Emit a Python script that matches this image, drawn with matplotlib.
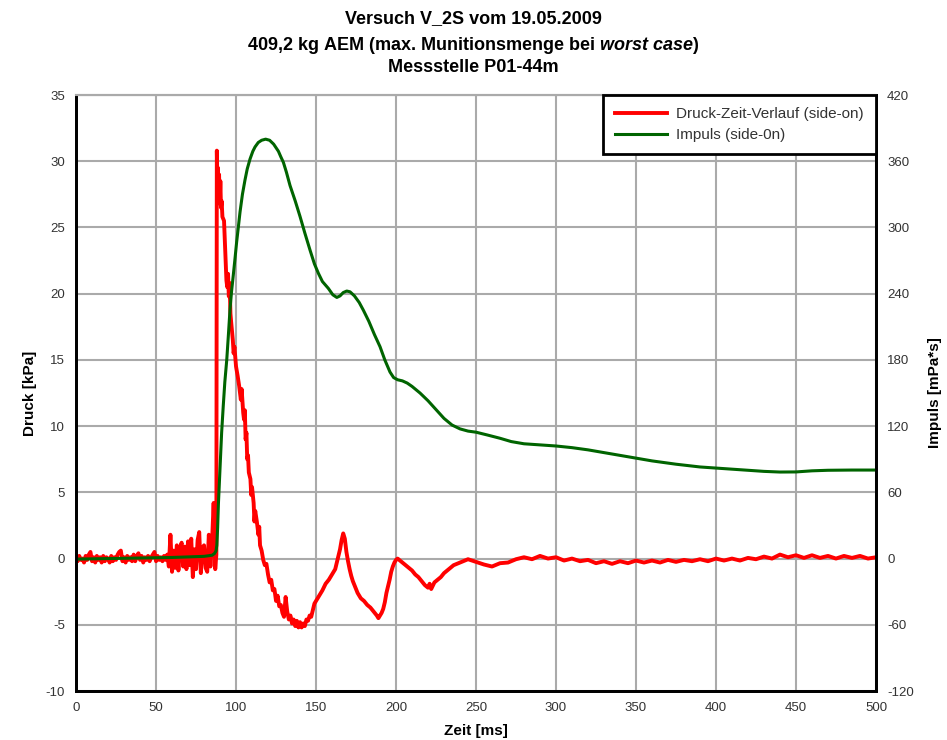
import numpy as np
from matplotlib import pyplot as plt

plt.rcParams['font.family'] = ['Liberation Sans', 'DejaVu Sans']
plt.rcParams['mathtext.fontset'] = 'custom'
plt.rcParams['mathtext.it'] = 'Liberation Sans:bold:italic'
plt.rcParams['mathtext.rm'] = 'Liberation Sans:bold'
plt.rcParams['axes.unicode_minus'] = False

# Druck vor dem Stoss, 1 ms Raster (t = 0 .. 87 ms)
t_vor = np.arange(0, 88, 1.0)
p_vor = [0.1, -0.2, 0.2, -0.1, 0.0, -0.3, 0.2, -0.1, 0.3, 0.5,
         -0.2, 0.1, -0.3, 0.2, -0.1, 0.1, -0.3, 0.2, -0.2, 0.1,
         0.0, -0.3, 0.2, -0.2, 0.1, -0.1, 0.3, 0.5, 0.6, -0.2,
         0.1, -0.3, 0.2, -0.1, 0.1, -0.2, 0.3, -0.2, 0.2, 0.4,
         -0.1, 0.2, -0.3, 0.1, -0.1, 0.2, -0.2, 0.1, 0.3, 0.5,
         -0.2, 0.2, -0.1, 0.1, -0.2, 0.2, -0.1, 0.3, -0.6, 1.8,
         -1.0, 0.6, -0.7, 1.0, -0.9, 0.8, 1.2, -0.6, 0.9, -0.8,
         1.3, -0.5, 1.5, -1.4, 0.7, -0.8, 1.4, 2.0, -1.1, 0.8,
         1.0, -0.7, -1.0, 1.8, -0.6, 1.2, 4.2, -0.8]

# Stoss und Unterdruckphase (t [ms], p [kPa])
druck_stoss = [
    (87.7, 0.3), (88.0, 30.8), (88.4, 28.0), (88.7, 29.5), (89.0, 27.2),
    (89.4, 29.0), (89.8, 26.8), (90.2, 28.5), (90.6, 26.5), (91.0, 27.0),
    (91.5, 25.8), (92.5, 25.5), (93.0, 24.0), (93.5, 22.5), (94.0, 21.0),
    (94.5, 20.5), (95.0, 21.5), (95.5, 19.8), (96.0, 20.8), (96.5, 18.5),
    (97.0, 17.8), (98.0, 16.5), (98.5, 15.5), (99.0, 16.0), (100.0, 14.5),
    (101.0, 13.8), (102.0, 13.0), (103.0, 12.0), (103.5, 12.8), (104.5, 11.0),
    (105.0, 10.5), (105.5, 11.2), (106.0, 9.0), (106.5, 9.5), (107.0, 7.5),
    (107.5, 7.8), (108.0, 6.5), (109.0, 6.0), (109.5, 4.8), (110.0, 5.4),
    (111.0, 4.2), (111.5, 2.8), (112.0, 3.6), (113.0, 2.8), (114.0, 1.8),
    (114.5, 2.4), (115.0, 1.0), (116.0, 0.6), (117.0, -0.1), (118.0, -0.5),
    (119.0, -0.4), (120.0, -1.2), (121.0, -1.8), (122.0, -1.6), (123.0, -2.4),
    (124.0, -2.3), (125.0, -3.2), (126.0, -2.8), (127.0, -3.6), (128.0, -3.5),
    (129.0, -4.1), (130.0, -4.4), (131.0, -2.9), (132.0, -4.0), (133.0, -4.6),
    (134.0, -4.3), (135.0, -4.9), (136.0, -4.6), (137.0, -5.1), (138.0, -4.7),
    (139.0, -5.2), (140.0, -4.8), (141.0, -5.2), (142.0, -4.9), (143.0, -5.1),
    (144.0, -4.6), (145.0, -4.7), (146.0, -4.3), (147.0, -4.4), (148.0, -3.9),
    (149.0, -3.4), (150.0, -3.2), (151.0, -3.0), (152.0, -2.8), (154.0, -2.4),
    (156.0, -1.9), (158.0, -1.6), (160.0, -1.2), (162.0, -0.8), (163.0, -0.3),
    (164.0, 0.2), (165.0, 0.7), (166.0, 1.4), (167.0, 1.9), (168.0, 1.5),
    (169.0, 0.5), (170.0, -0.2), (171.0, -0.8), (172.0, -1.3), (173.0, -1.7),
    (174.0, -2.0), (176.0, -2.6), (178.0, -3.0), (180.0, -3.2), (182.0, -3.5),
    (184.0, -3.7), (186.0, -4.0), (188.0, -4.3), (189.0, -4.5), (190.0, -4.3),
    (191.0, -4.1), (192.0, -3.8), (193.0, -3.3), (194.0, -2.6), (195.0, -2.1),
    (196.0, -1.6), (197.0, -1.0), (198.0, -0.6), (199.0, -0.3), (200.0, -0.1),
    (201.0, 0.0), (202.0, -0.1), (204.0, -0.3), (206.0, -0.5), (208.0, -0.7),
    (210.0, -0.9), (212.0, -1.2), (214.0, -1.4), (216.0, -1.7), (218.0, -2.0),
    (220.0, -2.2), (221.0, -1.9), (222.0, -2.3), (224.0, -1.8), (226.0, -1.6),
    (228.0, -1.4), (230.0, -1.1), (232.0, -0.9), (234.0, -0.7), (236.0, -0.5),
]

# Ausschwingen, 5 ms Raster (t = 240 .. 500 ms)
t_nach = np.arange(240, 501, 5.0)
p_nach = [-0.3, -0.05, -0.25, -0.45, -0.6, -0.35, -0.3, -0.05, 0.1, -0.05,
          0.2, 0.0, 0.1, -0.15, 0.0, -0.2, -0.1, -0.35, -0.2, -0.4,
          -0.2, -0.35, -0.15, -0.3, -0.15, -0.3, -0.1, -0.25, -0.1, -0.2,
          -0.05, -0.2, 0.0, -0.15, 0.0, -0.15, 0.05, -0.05, 0.15, 0.0,
          0.3, 0.1, 0.25, 0.05, 0.25, 0.05, 0.2, 0.0, 0.2, 0.05,
          0.2, 0.0, 0.1]

# Impuls (t [ms], I [mPa*s])
t_impuls = [0, 20, 40, 60, 80, 85, 86.5, 87.5, 88, 88.5, 89, 90, 91, 92, 93,
            94.2, 95.2, 96.25, 97.2, 98.3, 99.3, 100.4, 101.5, 102.5, 104,
            105.6, 107, 108.75, 110.5, 111.9, 113.9, 116, 118.5, 121, 123.5,
            126.5, 128, 129.6, 131.5, 133.75, 137, 140, 143, 146.25, 149,
            151.5, 154, 157.7, 160.5, 163, 165, 167, 169.2, 171.25, 174, 177,
            179.6, 183, 186.5, 190, 193, 196.25, 198.5, 201, 204, 207, 210,
            215, 220, 225, 230, 235, 240, 245, 250, 257, 265, 272, 280, 290,
            300, 310, 320, 330, 340, 350, 360, 375, 390, 400, 415, 430, 440,
            450, 460, 470, 485, 500]
i_impuls = [-0.5, 0, 0.5, 1.0, 2.0, 3.0, 4.5, 7, 12, 28, 50, 82, 114, 138, 160,
            180, 202, 226, 242, 257, 271, 287, 301, 314, 330,
            343, 353, 362, 369, 373, 377, 379, 380, 379, 375.5,
            369, 364, 359, 350, 338, 324, 310, 295, 279.5, 267,
            258.4, 251, 244.8, 239, 236.6, 238, 241, 242.4, 241.7, 238, 232,
            225, 215, 203, 192, 180, 169, 164, 162, 161, 159, 156,
            150, 143, 135, 127, 121, 117.5, 115.5, 114.5, 112, 109, 106, 104, 103,
            102, 100.5, 98.5, 96, 93.5, 91, 88.5, 85.5, 83, 82, 80.5, 79, 78.4,
            78.5, 79.5, 80, 80.2, 80.2]

t_stoss = [a for a, b in druck_stoss]
p_stoss = [b for a, b in druck_stoss]
t_druck = np.concatenate([t_vor, t_stoss, t_nach])
p_druck = np.concatenate([p_vor, p_stoss, p_nach])

fig = plt.figure(figsize=(9.47, 7.4), dpi=100)
ax = fig.add_axes([0.0803, 0.0662, 0.8447, 0.8054])
ax2 = ax.twinx()

l1, = ax.plot(t_druck, p_druck, color='#ff0000', lw=2.8, label='Druck-Zeit-Verlauf (side-on)')
l2, = ax2.plot(t_impuls, i_impuls, color='#006400', lw=2.2, label='Impuls (side-0n)')

ax.set_xlim(0, 500)
ax.set_ylim(-10, 35)
ax2.set_ylim(-120, 420)
ax.set_xticks(range(0, 501, 50))
ax.set_yticks(range(-10, 36, 5))
ax2.set_yticks(range(-120, 421, 60))

ax.grid(True, color='#aaaaaa', lw=1.5)
ax.set_axisbelow(True)
for a in (ax, ax2):
    a.tick_params(length=0, labelsize=9.5, labelcolor='#333333', pad=8)
    for s in ('left', 'bottom', 'right'):
        a.spines[s].set_color('black')
        a.spines[s].set_linewidth(2)
    a.spines['top'].set_color('#aaaaaa')
    a.spines['top'].set_linewidth(1.5)

ax.set_xlabel('Zeit [ms]', fontsize=11, fontweight='bold', labelpad=7)
ax.set_ylabel('Druck [kPa]', fontsize=11, fontweight='bold', labelpad=6)
ax2.set_ylabel('Impuls [mPa*s]', fontsize=11, fontweight='bold', rotation=90, labelpad=10)

fig.text(0.5, 1 - 23 / 740, 'Versuch V_2S vom 19.05.2009', ha='center', va='baseline',
         fontsize=13, fontweight='bold')
fig.text(0.5, 1 - 50 / 740, r'409,2 kg AEM (max. Munitionsmenge bei $\mathit{worst\ case}$)',
         ha='center', va='baseline', fontsize=13, fontweight='bold')
fig.text(0.5, 1 - 72 / 740, 'Messstelle P01-44m', ha='center', va='baseline',
         fontsize=13, fontweight='bold')

leg = ax2.legend(handles=[l1, l2], loc='upper right', borderaxespad=0, fancybox=False,
                 framealpha=1, edgecolor='black', fontsize=11, handlelength=3.4,
                 handletextpad=0.6, labelspacing=0.45, borderpad=0.8)
leg.get_frame().set_linewidth(2)
for txt in leg.get_texts():
    txt.set_color('#333333')

fig.savefig('out.png', dpi=100)
